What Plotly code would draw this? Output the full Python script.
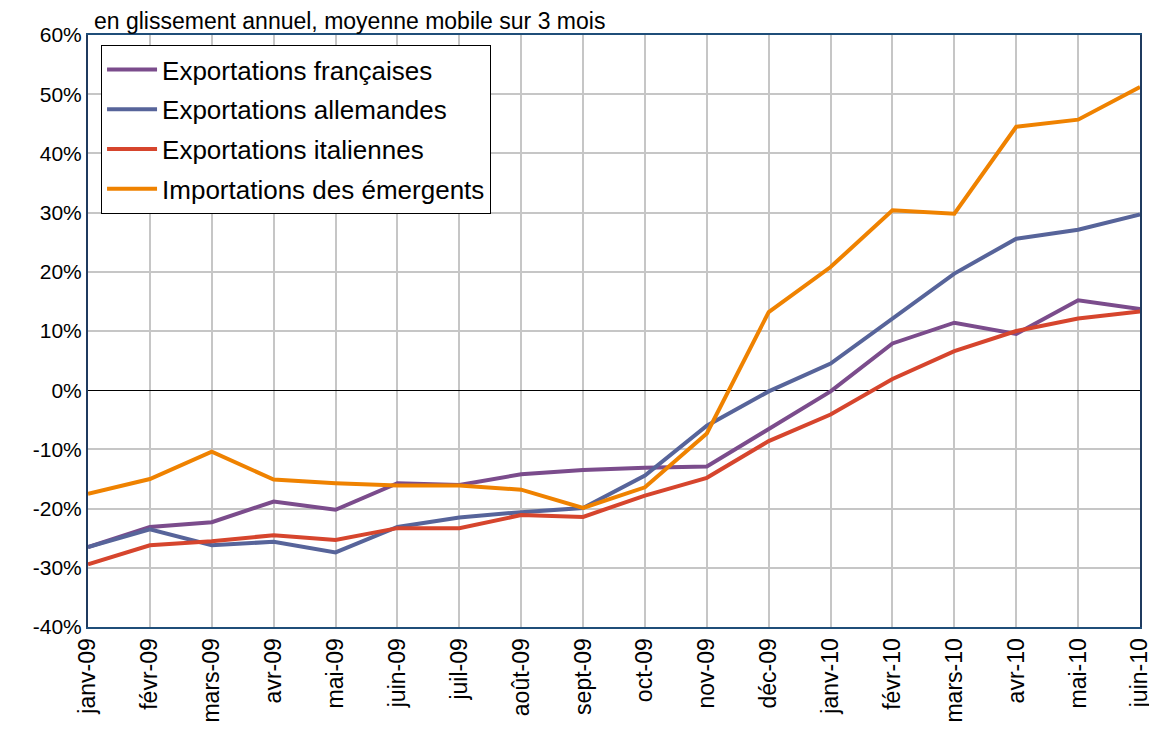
import plotly.graph_objects as go

months = ["janv-09", "févr-09", "mars-09", "avr-09", "mai-09", "juin-09", "juil-09", "août-09",
          "sept-09", "oct-09", "nov-09", "déc-09", "janv-10", "févr-10", "mars-10", "avr-10",
          "mai-10", "juin-10"]

export_fr = [-26.5, -23.1, -22.3, -18.8, -20.2, -15.7, -16.0, -14.2, -13.5, -13.1, -12.9, -6.6,
             -0.2, 7.9, 11.4, 9.5, 15.2, 13.7]
export_de = [-26.5, -23.5, -26.2, -25.6, -27.4, -23.1, -21.5, -20.6, -19.9, -14.4, -6.0, -0.2,
             4.5, 12.2, 19.7, 25.6, 27.1, 29.7]
export_it = [-29.4, -26.2, -25.5, -24.5, -25.3, -23.3, -23.3, -21.1, -21.4, -17.8, -14.8, -8.6,
             -4.1, 1.9, 6.6, 10.0, 12.1, 13.3]
import_em = [-17.5, -15.0, -10.4, -15.1, -15.7, -16.1, -16.1, -16.8, -19.9, -16.4, -7.3, 13.2,
             20.8, 30.4, 29.8, 44.5, 45.7, 51.2]

y_ticks = [-40, -30, -20, -10, 0, 10, 20, 30, 40, 50, 60]
y_tick_labels = ["-40%", "-30%", "-20%", "-10%", "0%", "10%", "20%", "30%", "40%", "50%", "60%"]

series = [
    ("Exportations françaises", export_fr, "#7B4C8C"),
    ("Exportations allemandes", export_de, "#57649A"),
    ("Exportations italiennes", export_it, "#D6452D"),
    ("Importations des émergents", import_em, "#EF8200"),
]

fig = go.Figure()
for i, (name, vals, col) in enumerate(series):
    fig.add_trace(go.Scatter(
        x=list(range(len(months))), y=vals, name=name, mode="lines",
        line=dict(color=col, width=4), legendgroup=f"g{i}",
    ))

font = "Liberation Sans, Arial, sans-serif"
W, H = 1157, 731
fig.update_layout(
    width=W, height=H,
    margin=dict(l=80, r=W - 80 - 1052, t=27, b=H - 27 - 592),
    paper_bgcolor="white", plot_bgcolor="white",
    font=dict(family=font, size=20, color="black"),
    showlegend=True,
    legend=dict(
        x=0.0124, y=0.983, xanchor="left", yanchor="top",
        bgcolor="white", bordercolor="black", borderwidth=1,
        font=dict(size=26, family=font), traceorder="grouped", tracegroupgap=3,
        itemwidth=50,
    ),
    annotations=[dict(
        text="en glissement annuel, moyenne mobile sur 3 mois", xref="paper", yref="paper",
        x=0.0, y=1.0, xanchor="left", yanchor="bottom", yshift=-1, xshift=4, showarrow=False,
        font=dict(size=23, family=font),
    )],
)
fig.update_xaxes(
    range=[0, len(months) - 1], tickmode="array", tickvals=list(range(len(months))),
    ticktext=months, tickangle=-90, tickfont=dict(size=23, family=font),
    showgrid=True, gridcolor="#C6C6C6", gridwidth=1.5,
    showline=True, linecolor="#1F4E79", linewidth=2, mirror=True, ticks="",
)
fig.update_yaxes(
    range=[-40, 60], tickmode="array", tickvals=y_ticks, ticktext=y_tick_labels,
    tickfont=dict(size=21, family=font),
    showgrid=True, gridcolor="#C6C6C6", gridwidth=1.5,
    zeroline=True, zerolinecolor="black", zerolinewidth=1.2,
    showline=True, linecolor="#1F3A5F", linewidth=2, mirror=True, ticks="",
)

fig.write_html("out.html")
